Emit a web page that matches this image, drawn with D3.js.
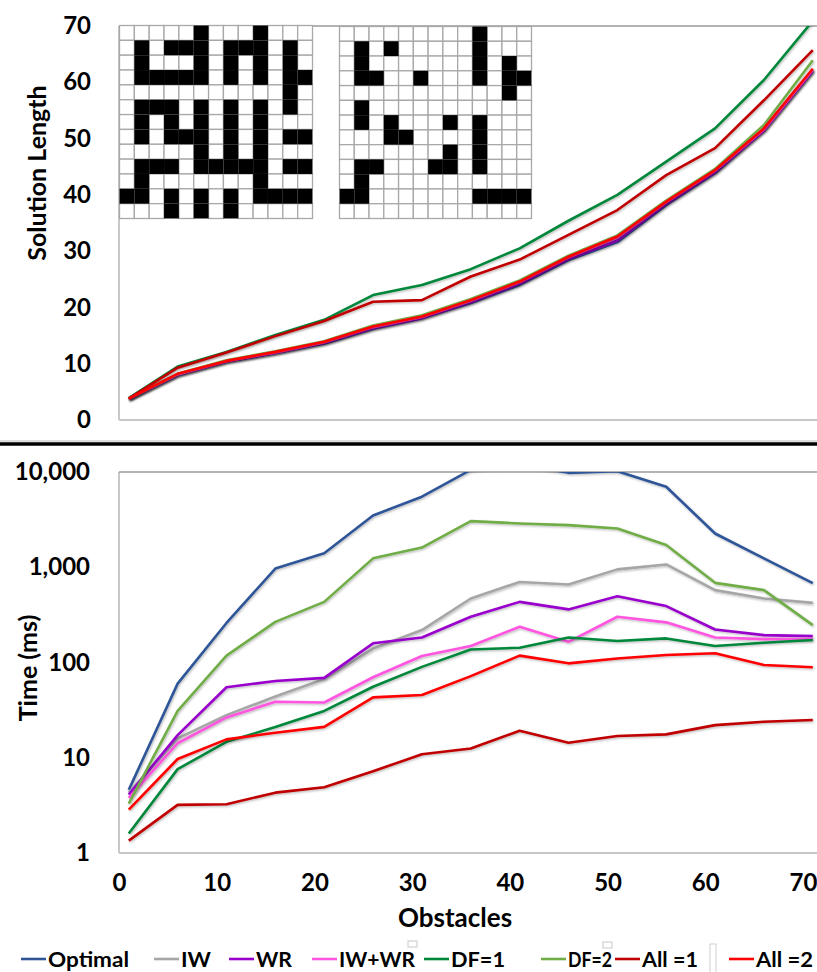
<!DOCTYPE html>
<html>
<head>
<meta charset="utf-8">
<script src="https://cdn.jsdelivr.net/npm/d3@7"></script>
<style>
  body { margin: 0; background: #fff; }
  svg { display: block; }
  text { font-family: Lato, "Open Sans", sans-serif; font-weight: 700; fill: #000; }
</style>
</head>
<body>
<svg id="chart" width="817" height="972"></svg>
<script>
// x values (number of obstacles)
const obstacles = [1, 6, 11, 16, 21, 26, 31, 36, 41, 46, 51, 56, 61, 66, 71];

const seriesNames = ["Optimal", "IW", "WR", "IW+WR", "DF=1", "DF=2", "All =1", "All =2"];
const seriesColors = ["#2f5597", "#a6a6a6", "#9900cc", "#ff55e0", "#00873a", "#70ad47", "#c00000", "#ff0000"];

// solution length (top chart)
const lengthOptimal = [3.7, 8.0, 10.4, 11.9, 13.6, 16.2, 18.1, 20.8, 24.0, 28.4, 31.6, 38.2, 43.9, 51.5, 62.0];
const lengthIW      = [3.8, 8.1, 10.5, 12.0, 13.8, 16.4, 18.3, 21.1, 24.4, 28.8, 32.2, 38.6, 44.2, 51.7, 62.3];
const lengthWR      = [3.7, 8.0, 10.4, 11.9, 13.7, 16.3, 18.1, 20.9, 24.2, 28.6, 31.9, 38.4, 44.0, 51.4, 62.0];
const lengthIWWR    = [3.8, 8.1, 10.5, 12.0, 13.8, 16.5, 18.3, 21.2, 24.5, 28.9, 32.4, 38.7, 44.3, 51.6, 62.2];
const lengthDF1     = [3.9, 9.5, 12.1, 15.1, 17.8, 22.2, 24.0, 26.8, 30.5, 35.4, 40.0, 45.9, 51.8, 60.4, 70.9];
const lengthDF2     = [3.8, 8.2, 10.6, 12.2, 14.0, 16.8, 18.6, 21.5, 24.8, 29.2, 32.8, 39.0, 44.6, 52.4, 63.9];
const lengthAll1    = [3.8, 9.3, 12.0, 14.9, 17.6, 21.0, 21.3, 25.5, 28.5, 32.9, 37.3, 43.5, 48.3, 56.8, 65.7];
const lengthAll2    = [3.8, 8.2, 10.5, 12.1, 13.9, 16.6, 18.4, 21.3, 24.6, 29.0, 32.6, 38.8, 44.4, 51.8, 62.4];

// time in ms (bottom chart, log scale)
const timeOptimal = [4.6, 60, 260, 970, 1400, 3500, 5500, 10500, 12000, 9800, 10200, 7000, 2260, 1240, 680];
const timeIW      = [4.3, 16, 28, 44, 67, 140, 219, 470, 700, 660, 950, 1070, 575, 470, 423];
const timeWR      = [4.1, 17.3, 55, 64, 69, 159, 183, 302, 433, 361, 497, 391, 222, 194, 189];
const timeIWWR    = [3.8, 14.2, 26.5, 38.7, 38, 70, 117, 149, 237, 165, 302, 264, 183, 176, 176];
const timeDF1     = [1.6, 7.6, 14.7, 21, 31, 55.6, 90, 137, 143, 183, 168, 179, 149, 161, 172];
const timeDF2     = [3.3, 31, 118, 267, 433, 1240, 1610, 3050, 2880, 2770, 2550, 1710, 686, 575, 247];
const timeAll1    = [1.35, 3.2, 3.25, 4.3, 4.9, 7.2, 10.9, 12.5, 19.2, 14.4, 16.9, 17.6, 22, 23.9, 24.9];
const timeAll2    = [2.85, 9.7, 15.6, 18.3, 21.1, 43, 45.5, 72, 118, 98, 110, 120, 125, 94, 89];

const lengthSeries = [lengthOptimal, lengthIW, lengthWR, lengthIWWR, lengthDF1, lengthDF2, lengthAll1, lengthAll2];
const timeSeries = [timeOptimal, timeIW, timeWR, timeIWWR, timeDF1, timeDF2, timeAll1, timeAll2];

const obstacleTicks = [0, 10, 20, 30, 40, 50, 60, 70];
const lengthTicks = [0, 10, 20, 30, 40, 50, 60, 70];
const timeTicks = [1, 10, 100, 1000, 10000];

// example mazes shown as inset (# = obstacle)
const mazeA = [
  ".....#...#...",
  ".#.###.###.#.",
  ".#...#.#.#.#.",
  ".#####.#.#.##",
  "...........#.",
  ".###.#.#.#.#.",
  ".#.#.#.#.#...",
  ".#.###.#.#.##",
  ".....#.#.#...",
  ".###.#####.##",
  ".#.......#...",
  "##.#.#.#.####",
  "...#.#.#....."
];
const mazeB = [
  ".........#...",
  ".#.#.....#...",
  ".#.......#.#.",
  ".##..#...#.##",
  "...........#.",
  ".#...........",
  ".#.#...#.#...",
  "...##....#...",
  ".......#.#...",
  ".##...##.#...",
  ".#...........",
  "##.......####",
  "............."
];

const svg = d3.select("#chart");
const W = 817;
const left = 119;

// drop shadow like the spreadsheet lines
const defs = svg.append("defs");
defs.append("filter").attr("id", "shadow")
  .attr("x", "-5%").attr("y", "-5%").attr("width", "110%").attr("height", "110%")
  .append("feDropShadow")
  .attr("dx", 1).attr("dy", 1.2).attr("stdDeviation", 0.8)
  .attr("flood-color", "#000").attr("flood-opacity", 0.28);

let x = d3.scaleLinear().domain([0, 70]).range([left, 803]);

let yLen = d3.scaleLinear().domain([0, 70]).range([420, 26]);
let yTime = d3.scaleLog().domain([1, 10000]).range([853, 472]);

defs.append("clipPath").attr("id", "clipTop")
  .append("rect").attr("x", left).attr("y", 26).attr("width", W - left).attr("height", 394);
defs.append("clipPath").attr("id", "clipBottom")
  .append("rect").attr("x", left).attr("y", 472).attr("width", W - left).attr("height", 381);

function drawPanel(yScale, yTop, yBottom, hTicks) {
  let g = svg.append("g");
  // outer border
  g.append("line").attr("x1", left).attr("x2", W).attr("y1", yBottom).attr("y2", yBottom)
    .attr("stroke", "#c8c8c8").attr("stroke-width", 2);
  g.append("line").attr("x1", left).attr("x2", left).attr("y1", yTop).attr("y2", yBottom)
    .attr("stroke", "#c8c8c8").attr("stroke-width", 2);
  g.append("line").attr("x1", left).attr("x2", W).attr("y1", yTop).attr("y2", yTop)
    .attr("stroke", "#9a9a9a").attr("stroke-width", 1.5);

  // vertical grid lines
  g.selectAll(".vg").data(obstacleTicks.filter(d => d > 0)).enter().append("line")
    .attr("x1", d => x(d)).attr("x2", d => x(d))
    .attr("y1", yTop).attr("y2", yBottom)
    .attr("stroke", "#505050").attr("stroke-width", 1.4)
    .attr("filter", "url(#shadow)");

  // horizontal grid lines
  g.selectAll(".hg").data(hTicks.slice(1, -1)).enter().append("line")
    .attr("x1", left - 3).attr("x2", W)
    .attr("y1", d => yScale(d)).attr("y2", d => yScale(d))
    .attr("stroke", "#505050").attr("stroke-width", 1.4)
    .attr("filter", "url(#shadow)");
  return g;
}

drawPanel(yLen, 26, 420, lengthTicks);
drawPanel(yTime, 472, 853, timeTicks);

// y axes
let axLen = svg.append("g")
  .attr("transform", `translate(${left},0)`)
  .call(d3.axisLeft(yLen).tickValues(lengthTicks).tickSize(0).tickPadding(28));
let axTime = svg.append("g")
  .attr("transform", `translate(${left},0)`)
  .call(d3.axisLeft(yTime).tickValues(timeTicks).tickSize(0).tickPadding(29).tickFormat(d3.format(",")));
let axX = svg.append("g")
  .attr("transform", `translate(0,853)`)
  .call(d3.axisBottom(x).tickValues(obstacleTicks).tickSize(0).tickPadding(21));

[axLen, axTime, axX].forEach(a => {
  a.select(".domain").remove();
  a.selectAll("text").style("font-family", "Lato, sans-serif").style("font-weight", 700)
    .style("font-size", "24px").attr("fill", "#000");
});

// series lines
let lineLen = d3.line().x((d, i) => x(obstacles[i])).y(d => yLen(d));
let lineTime = d3.line().x((d, i) => x(obstacles[i])).y(d => yTime(d));

let topLines = svg.append("g").attr("clip-path", "url(#clipTop)");
topLines.selectAll("path").data(lengthSeries).enter().append("path")
  .attr("d", d => lineLen(d))
  .attr("fill", "none")
  .attr("stroke", (d, i) => seriesColors[i])
  .attr("stroke-width", 2.6)
  .attr("stroke-linejoin", "round")
  .attr("filter", "url(#shadow)");

let bottomLines = svg.append("g").attr("clip-path", "url(#clipBottom)");
bottomLines.selectAll("path").data(timeSeries).enter().append("path")
  .attr("d", d => lineTime(d))
  .attr("fill", "none")
  .attr("stroke", (d, i) => seriesColors[i])
  .attr("stroke-width", 2.6)
  .attr("stroke-linejoin", "round")
  .attr("filter", "url(#shadow)");

// maze insets
function drawMaze(maze, x0, y0, size) {
  let cx = d3.scaleBand().domain(d3.range(13)).range([x0, x0 + size]);
  let cy = d3.scaleBand().domain(d3.range(13)).range([y0, y0 + size]);
  let cells = [];
  maze.forEach((row, r) => row.split("").forEach((c, k) => cells.push({ r: r, c: k, wall: c === "#" })));
  let g = svg.append("g");
  g.selectAll("rect.cell").data(cells.filter(d => !d.wall)).enter().append("rect")
    .attr("x", d => cx(d.c)).attr("y", d => cy(d.r))
    .attr("width", cx.bandwidth()).attr("height", cy.bandwidth())
    .attr("fill", "#fff").attr("stroke", "#a8a8a8").attr("stroke-width", 1.3);
  g.selectAll("rect.wall").data(cells.filter(d => d.wall)).enter().append("rect")
    .attr("x", d => cx(d.c)).attr("y", d => cy(d.r))
    .attr("width", cx.bandwidth()).attr("height", cy.bandwidth())
    .attr("fill", "#000");
}
drawMaze(mazeA, 119.5, 25.5, 193);
drawMaze(mazeB, 339.5, 26.5, 192);

// separator between the two panels
svg.append("line").attr("x1", 0).attr("x2", W).attr("y1", 441).attr("y2", 441)
  .attr("stroke", "#bbb").attr("stroke-width", 1);
svg.append("line").attr("x1", 0).attr("x2", W).attr("y1", 444).attr("y2", 444)
  .attr("stroke", "#000").attr("stroke-width", 3.5);

// axis titles
svg.append("text")
  .attr("transform", "translate(46,173) rotate(-90)")
  .attr("text-anchor", "middle")
  .style("font-size", "25px")
  .text("Solution Length");
svg.append("text")
  .attr("transform", "translate(37,668) rotate(-90)")
  .attr("text-anchor", "middle")
  .style("font-size", "25px")
  .text("Time (ms)");
svg.append("text")
  .attr("x", 455).attr("y", 927)
  .attr("text-anchor", "middle")
  .style("font-size", "26px")
  .text("Obstacles");

// legend (entries are squeezed in the original picture)
const legendX = [21, 154, 229, 312, 424, 541, 615, 729];
const legendTextWidth = [81, 30, 36, 76, 54, 44, 56, 57];
let legend = svg.append("g");
let items = legend.selectAll("g").data(seriesNames).enter().append("g")
  .attr("transform", (d, i) => `translate(${legendX[i]},959)`);
items.append("line")
  .attr("x1", 0).attr("x2", 25).attr("y1", 0).attr("y2", 0)
  .attr("stroke", (d, i) => seriesColors[i]).attr("stroke-width", 2.6);
items.append("text")
  .attr("x", 27).attr("y", 8)
  .style("font-size", "21px")
  .attr("textLength", (d, i) => legendTextWidth[i])
  .attr("lengthAdjust", "spacingAndGlyphs")
  .text(d => d);

// small leftover frames seen in the legend strip
legend.append("rect").attr("x", 408).attr("y", 941).attr("width", 9).attr("height", 6)
  .attr("fill", "none").attr("stroke", "#c8c8c8").attr("stroke-width", 1);
legend.append("rect").attr("x", 603).attr("y", 942).attr("width", 9).attr("height", 6)
  .attr("fill", "none").attr("stroke", "#c8c8c8").attr("stroke-width", 1);
legend.append("rect").attr("x", 710).attr("y", 944).attr("width", 6).attr("height", 30)
  .attr("fill", "none").attr("stroke", "#d0d0d0").attr("stroke-width", 1);
</script>
</body>
</html>
